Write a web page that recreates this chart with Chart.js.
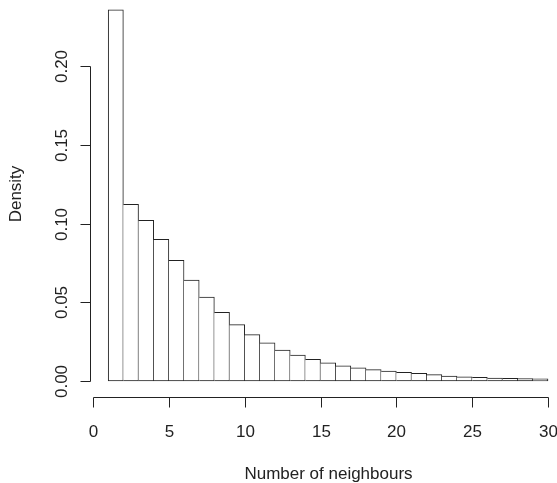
<!DOCTYPE html>
<html>
<head>
<meta charset="utf-8">
<script src="https://cdn.jsdelivr.net/npm/chart.js@4/dist/chart.umd.min.js"></script>
<style>
  html, body { margin: 0; padding: 0; background: #ffffff; }
  #wrap { width: 557px; height: 483px; }
</style>
</head>
<body>
<div id="wrap"><canvas id="c" width="557" height="483"></canvas></div>
<script>
// Histogram bins (left edges; each bin is 1 wide)
const binStarts = [1, 2, 3, 4, 5, 6, 7, 8, 9, 10, 11, 12, 13, 14, 15, 16, 17, 18, 19, 20, 21, 22, 23, 24, 25, 26, 27, 28, 29];
const binWidth = 1;
// Density per bin
const density = [0.2356, 0.1122, 0.1020, 0.0900, 0.0766, 0.0641, 0.0533, 0.0436, 0.0358, 0.0294,
                 0.0243, 0.0197, 0.0165, 0.0138, 0.0116, 0.0097, 0.0083, 0.0072, 0.0063, 0.0055,
                 0.0049, 0.0040, 0.0032, 0.0027, 0.0023, 0.0019, 0.0017, 0.0015, 0.0014];
// Axis ticks
const xTicks = [0, 5, 10, 15, 20, 25, 30];
const xTickLabels = ['0', '5', '10', '15', '20', '25', '30'];
const yTicks = [0, 0.05, 0.10, 0.15, 0.20];
const yTickLabels = ['0.00', '0.05', '0.10', '0.15', '0.20'];
const xTitle = 'Number of neighbours';
const yTitle = 'Density';

const FONT = '17px "Liberation Sans", Arial, Helvetica, sans-serif';
const INK = '#222222';

const points = binStarts.map((b, i) => ({ x: b + binWidth / 2, y: density[i] }));

const rAxes = {
  id: 'rAxes',
  afterDraw(chart) {
    const ctx = chart.ctx;
    const xs = chart.scales.x, ys = chart.scales.y;
    ctx.save();
    ctx.strokeStyle = INK;
    ctx.fillStyle = INK;
    ctx.lineWidth = 1;
    ctx.font = FONT;

    // y axis (R style, detached)
    const yAxisX = Math.round(xs.getPixelForValue(-0.2)) + 0.5;
    const yTop = Math.round(ys.getPixelForValue(yTicks[yTicks.length - 1])) + 0.5;
    const yBot = Math.round(ys.getPixelForValue(yTicks[0])) + 0.5;
    ctx.beginPath();
    ctx.moveTo(yAxisX, yTop);
    ctx.lineTo(yAxisX, yBot);
    ctx.stroke();
    yTicks.forEach((v, i) => {
      const py = Math.round(ys.getPixelForValue(v)) + 0.5;
      ctx.beginPath();
      ctx.moveTo(yAxisX, py);
      ctx.lineTo(yAxisX - 10, py);
      ctx.stroke();
      ctx.save();
      ctx.translate(yAxisX - 24, py);
      ctx.rotate(-Math.PI / 2);
      ctx.textAlign = 'center';
      ctx.textBaseline = 'alphabetic';
      ctx.fillText(yTickLabels[i], 0, 0);
      ctx.restore();
    });
    // y title
    ctx.save();
    ctx.translate(21, 194);
    ctx.rotate(-Math.PI / 2);
    ctx.textAlign = 'center';
    ctx.textBaseline = 'alphabetic';
    ctx.fillText(yTitle, 0, 0);
    ctx.restore();

    // x axis (R style, detached below plot)
    const xAxisY = Math.round(ys.getPixelForValue(-0.01)) + 0.5;
    const xl = Math.round(xs.getPixelForValue(xTicks[0])) + 0.5;
    const xr = Math.round(xs.getPixelForValue(xTicks[xTicks.length - 1])) + 0.5;
    ctx.beginPath();
    ctx.moveTo(xl, xAxisY);
    ctx.lineTo(xr, xAxisY);
    ctx.stroke();
    xTicks.forEach((v, i) => {
      const px = Math.round(xs.getPixelForValue(v)) + 0.5;
      ctx.beginPath();
      ctx.moveTo(px, xAxisY);
      ctx.lineTo(px, xAxisY + 10);
      ctx.stroke();
      ctx.textAlign = 'center';
      ctx.textBaseline = 'alphabetic';
      ctx.fillText(xTickLabels[i], px, xAxisY + 39);
    });
    ctx.textAlign = 'center';
    ctx.textBaseline = 'alphabetic';
    ctx.fillText(xTitle, 328.5, 479);
    ctx.restore();
  }
};

new Chart(document.getElementById('c'), {
  type: 'bar',
  data: {
    datasets: [{
      data: points,
      backgroundColor: '#ffffff',
      borderColor: INK,
      borderSkipped: false,
      borderWidth: (c) => ({ top: 1, right: 1, bottom: 1, left: c.dataIndex === 0 ? 1 : 0 }),
      barPercentage: 1,
      categoryPercentage: 1
    }]
  },
  options: {
    responsive: false,
    animation: false,
    events: [],
    layout: { padding: { left: 90, right: 1.4, top: 3, bottom: 86.25 } },
    plugins: { legend: { display: false }, tooltip: { enabled: false } },
    scales: {
      x: { type: 'linear', min: -0.2, max: 30.5, offset: false, display: false },
      y: { type: 'linear', min: -0.01, max: 0.24, display: false }
    }
  },
  plugins: [rAxes]
});
</script>
</body>
</html>
